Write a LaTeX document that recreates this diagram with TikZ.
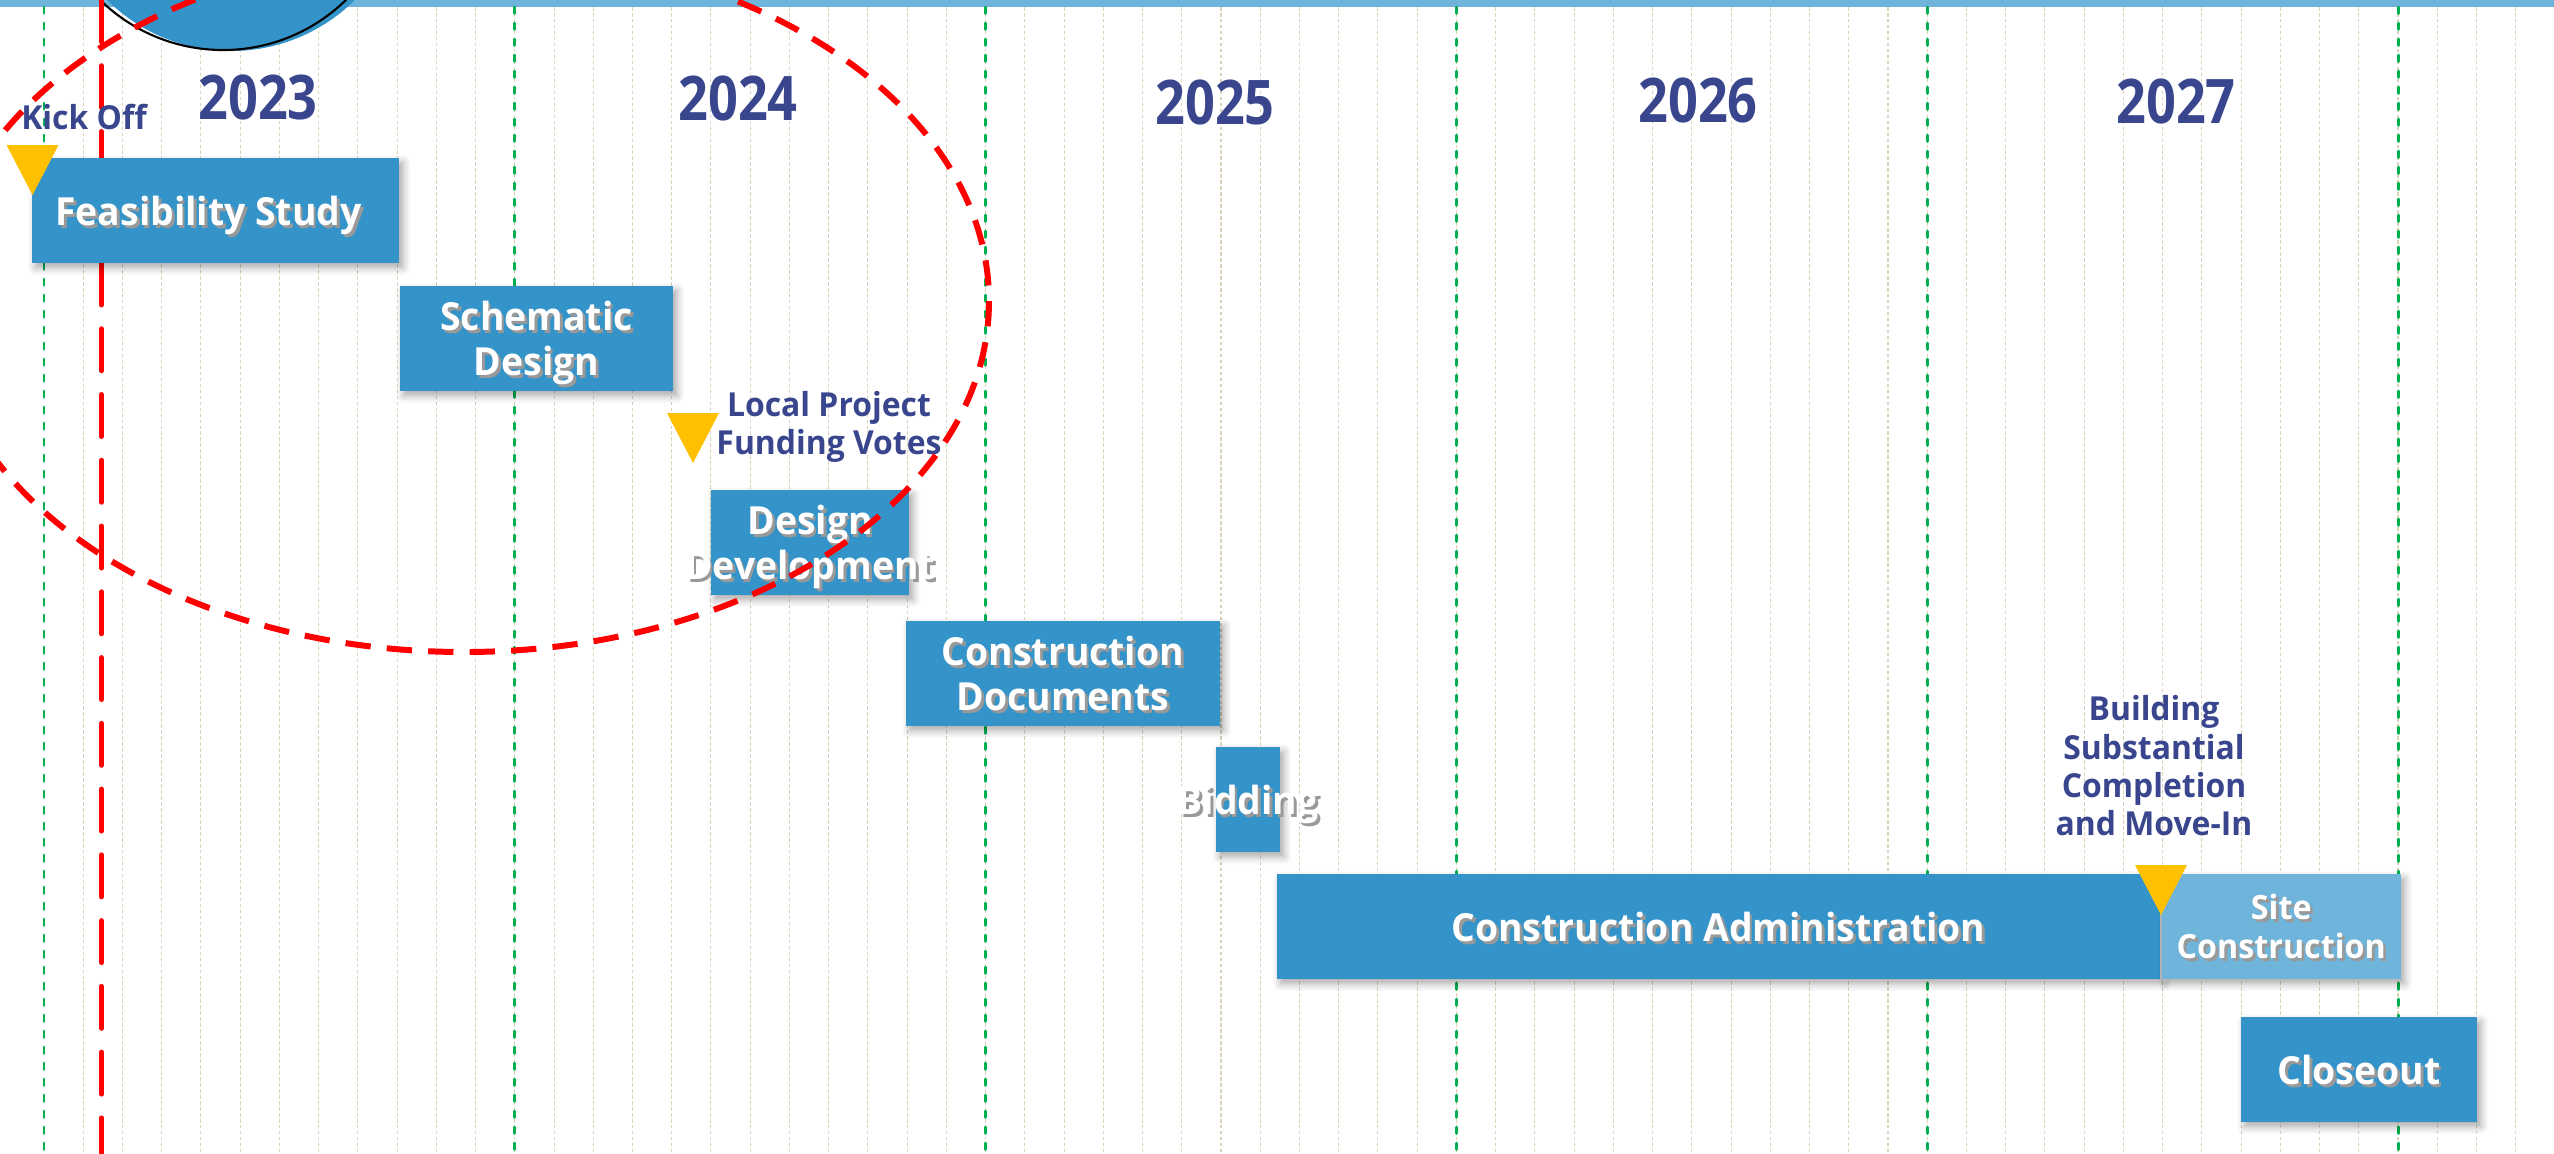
\documentclass[tikz,border=0pt]{standalone}
\usepackage{fontspec}
\setmainfont{Open Sans}[FakeStretch=0.965]
\newfontfamily\yearfont{Open Sans}[FakeStretch=0.85]
\usetikzlibrary{shadows.blur}

\definecolor{phaseblue}{RGB}{52,148,201}
\definecolor{sitelight}{RGB}{111,180,218}
\definecolor{labelnavy}{RGB}{57,70,142}
\definecolor{msyellow}{RGB}{255,192,0}
\definecolor{yeargreen}{RGB}{0,176,80}
\definecolor{monthbeige}{RGB}{218,211,186}

\tikzset{
  phase/.style={
    fill=phaseblue,
    text=white,
    align=center,
    inner sep=0pt,
    text depth=0pt,
    minimum height=1.05cm,
    font=\fontsize{11}{12.8}\selectfont\bfseries,
    blur shadow={shadow xshift=1.1pt, shadow yshift=-1.3pt, shadow blur steps=6, shadow opacity=35}
  },
  phase-light/.style={phase, fill=sitelight, font=\fontsize{9.5}{11.1}\selectfont\bfseries},
  milestone/.style={text=labelnavy, align=center, inner sep=0pt, font=\fontsize{9.4}{10.9}\selectfont\bfseries},
  year/.style={text=labelnavy, inner sep=0pt, font=\yearfont\fontsize{17.5}{20}\selectfont\bfseries},
  month-line/.style={draw=monthbeige, line width=0.3pt, dash pattern=on 1pt off 0.7pt},
  year-line/.style={draw=yeargreen, line width=0.85pt, dash pattern=on 1.8pt off 2.75pt, line cap=round},
  red-line/.style={draw=red, line width=1.45pt, dash pattern=on 11.9pt off 6.8pt, line cap=round},
  red-ring/.style={draw=red, line width=1.7pt, dash pattern=on 7.2pt off 4.6pt}
}

% white text with a grey shadow, zero width so it may hang over its box
\newcommand{\shd}[1]{\makebox[0pt]{\rlap{\kern0.8pt\raisebox{-0.8pt}{\color{black!40}#1}}#1}}
% yellow marker, (#1,#2) is the middle of its top edge
\newcommand{\marker}[2]{\fill[msyellow] ({#1-26},#2) -- ({#1+26},#2) -- (#1,{#2+50}) -- cycle;}

\begin{document}
\begin{tikzpicture}[x=0.01cm, y=-0.01cm]
  \useasboundingbox (0,0) rectangle (2554,1153);
  \clip (0,0) rectangle (2554,1153);
  % top band
  \fill[sitelight] (0,0) rectangle (2554,7);
  % month and year grid
  \foreach \m in {1,...,64}
    \draw[month-line] ({44+39.233*\m},7) -- ({44+39.233*\m},1153);
  \foreach \k in {0,...,5}
    \draw[year-line] ({44+470.8*\k},7) -- ({44+470.8*\k},1153);
  % years
  \foreach \yr/\px/\py in {2023/258/97, 2024/738/98, 2025/1215/102, 2026/1698/100, 2027/2176/101}
    \node[year] (y\yr) at (\px,\py) {\yr};
  % disc cut by the top edge
  \fill[phaseblue] (231,-125) circle[radius=176];
  \draw[black, line width=0.6pt] (223,-126) circle[radius=176];
  % today line
  \draw[red-line] (101.5,0) -- (101.5,1153);
  % phases
  \node[phase, minimum width=3.67cm] (feas) at (215.5,210.5) {\shd{Feasibility Study}\hspace*{0.14cm}};
  \node[phase, minimum width=2.73cm] (schem) at (536.5,338.5) {\shd{Schematic}\\\shd{Design}};
  \node[phase, minimum width=1.98cm] (dd) at (810,542.5) {\shd{Design}\\\shd{Development}};
  \node[phase, minimum width=3.14cm] (cd) at (1063,673.5) {\shd{Construction}\\\shd{Documents}};
  \node[phase, minimum width=0.64cm] (bid) at (1248,799.5) {\shd{Bidding}};
  \node[phase, minimum width=8.83cm] (ca) at (1718.5,926.5) {\shd{Construction Administration}};
  \node[phase-light, minimum width=2.39cm, anchor=west] (site) at (ca.east) {\shd{Site}\\\shd{Construction}};
  \node[phase, minimum width=2.36cm] (close) at (2359,1069.5) {\shd{Closeout}};
  % milestones
  \marker{32.5}{145}
  \marker{693}{413}
  \marker{2161}{865}
  \node[milestone] (kick) at (84,116.5) {Kick Off};
  \node[milestone] (votes) at (829,427) {Local Project\\Funding Votes};
  \node[milestone] (move) at (2154,766) {Building\\Substantial\\Completion\\and Move-In};
  % dashed ring
  \draw[red-ring] (464,301) ellipse [x radius=525, y radius=351];
\end{tikzpicture}
\end{document}
